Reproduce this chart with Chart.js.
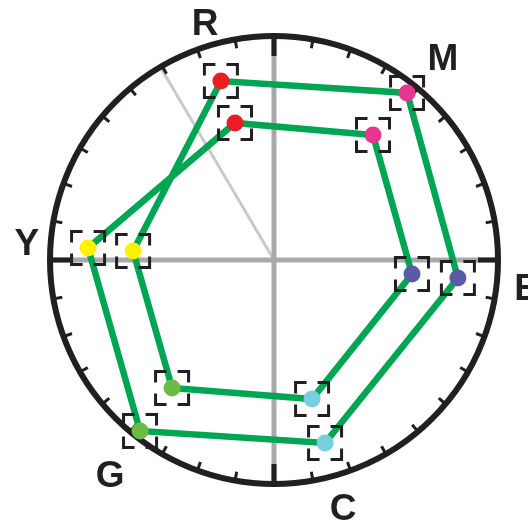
<!DOCTYPE html>
<html>
<head>
<meta charset="utf-8">
<script src="https://cdn.jsdelivr.net/npm/chart.js@4.4.1/dist/chart.umd.min.js"></script>
<style>
  body { margin: 0; background: #fff; }
  #wrap { width: 528px; height: 523px; }
</style>
</head>
<body>
<div id="wrap"><canvas id="scope" width="528" height="523"></canvas></div>
<script>
// Vectorscope targets, in percent of the graticule radius
const targets = ['R', 'M', 'B', 'C', 'G', 'Y'];
const outerX = [-23.7, 59.4, 82.1, 22.8, -59.8, -83.0];
const outerY = [79.9, 74.6, -8.0, -81.7, -76.3, 5.4];
const innerX = [-17.4, 44.2, 61.6, 17.0, -45.5, -62.9];
const innerY = [61.2, 55.8, -6.3, -62.1, -57.1, 4.0];
const tickStep = 10;      // degrees between graticule ticks
const skinAngle = 120.5;  // skin tone line, degrees

const dotColors = {
  R: '#ec1c24', M: '#e8358f', B: '#5a5ba8',
  C: '#78cfe0', G: '#6cbb45', Y: '#fff200'
};
const ink = '#231f20';

// label anchors in data units (centre x, baseline y)
const labelPos = {
  R: [-30.8, 100.4], M: [75.4, 84.8], B: [113.2, -17.9],
  C: [30.8, -116.1], G: [-73.2, -101.3], Y: [-110.3, 2.2]
};

// one closed trace: inner hexagon, then outer, back to start
const order = [5, 4, 3, 2, 1, 0];
const trace = [];
order.forEach(i => trace.push({ x: innerX[i], y: innerY[i] }));
order.forEach(i => trace.push({ x: outerX[i], y: outerY[i] }));
trace.push(trace[0]);

const dots = [];
const dotFill = [];
targets.forEach((t, i) => {
  dots.push({ x: outerX[i], y: outerY[i] });
  dotFill.push(dotColors[t]);
  dots.push({ x: innerX[i], y: innerY[i] });
  dotFill.push(dotColors[t]);
});

// Graticule: circle, axes, ticks, labels
const graticule = {
  id: 'graticule',
  beforeDatasetsDraw(chart) {
    const { ctx, scales: { x, y } } = chart;
    const cx = x.getPixelForValue(0);
    const cy = y.getPixelForValue(0);
    const r = x.getPixelForValue(100) - cx;
    ctx.save();

    // skin tone line
    const sa = skinAngle * Math.PI / 180;
    ctx.strokeStyle = '#c9c9cb';
    ctx.lineWidth = 3;
    ctx.beginPath();
    ctx.moveTo(cx, cy);
    ctx.lineTo(cx + r * Math.cos(sa), cy - r * Math.sin(sa));
    ctx.stroke();

    // grey axes
    ctx.strokeStyle = '#a7a9ac';
    ctx.lineWidth = 5;
    ctx.beginPath();
    ctx.moveTo(cx - r, cy); ctx.lineTo(cx + r, cy);
    ctx.moveTo(cx, cy - r); ctx.lineTo(cx, cy + r);
    ctx.stroke();

    // outer ring
    ctx.strokeStyle = ink;
    ctx.lineWidth = 6;
    ctx.beginPath();
    ctx.arc(cx, cy, r, 0, Math.PI * 2);
    ctx.stroke();

    // ticks
    for (let a = 0; a < 360; a += tickStep) {
      const rad = a * Math.PI / 180;
      const major = a % 90 === 0;
      const len = major ? 20 : 9;
      ctx.lineWidth = major ? 5 : 3;
      ctx.beginPath();
      ctx.moveTo(cx + r * Math.cos(rad), cy - r * Math.sin(rad));
      ctx.lineTo(cx + (r - len) * Math.cos(rad), cy - (r - len) * Math.sin(rad));
      ctx.stroke();
    }

    // target letters
    ctx.fillStyle = ink;
    ctx.font = 'bold 37px "Liberation Sans", Arial, sans-serif';
    ctx.textAlign = 'center';
    ctx.textBaseline = 'alphabetic';
    targets.forEach(t => {
      const p = labelPos[t];
      ctx.fillText(t, x.getPixelForValue(p[0]), y.getPixelForValue(p[1]));
    });
    ctx.restore();
  },
  afterDatasetDraw(chart, args) {
    // bracket boxes after the trace, before the dots
    if (args.index !== 0) return;
    const { ctx, scales: { x, y } } = chart;
    const half = 16.5, arm = 11;
    ctx.save();
    ctx.strokeStyle = ink;
    ctx.lineWidth = 3;
    ctx.lineJoin = 'miter';
    dots.forEach(d => {
      const px = x.getPixelForValue(d.x);
      const py = y.getPixelForValue(d.y);
      const l = px - half, rr = px + half, t = py - half, b = py + half;
      ctx.beginPath();
      ctx.moveTo(l + arm, t); ctx.lineTo(l, t); ctx.lineTo(l, t + arm);
      ctx.moveTo(rr - arm, t); ctx.lineTo(rr, t); ctx.lineTo(rr, t + arm);
      ctx.moveTo(l + arm, b); ctx.lineTo(l, b); ctx.lineTo(l, b - arm);
      ctx.moveTo(rr - arm, b); ctx.lineTo(rr, b); ctx.lineTo(rr, b - arm);
      ctx.stroke();
    });
    ctx.restore();
  }
};

new Chart(document.getElementById('scope'), {
  type: 'scatter',
  data: {
    datasets: [{
      label: 'trace',
      data: trace,
      showLine: true,
      borderColor: '#00a651',
      borderWidth: 6.5,
      pointRadius: 0,
      clip: false,
      order: 2
    }, {
      label: 'targets',
      data: dots,
      backgroundColor: dotFill,
      pointBackgroundColor: dotFill,
      pointBorderWidth: 0,
      pointRadius: 8.5,
      clip: false,
      order: 1
    }]
  },
  options: {
    responsive: false,
    animation: false,
    layout: { padding: { left: 50, right: 30, top: 36, bottom: 39 } },
    scales: {
      x: { type: 'linear', min: -100, max: 100, display: false },
      y: { type: 'linear', min: -100, max: 100, display: false }
    },
    plugins: { legend: { display: false }, tooltip: { enabled: false } }
  },
  plugins: [graticule]
});
</script>
</body>
</html>
